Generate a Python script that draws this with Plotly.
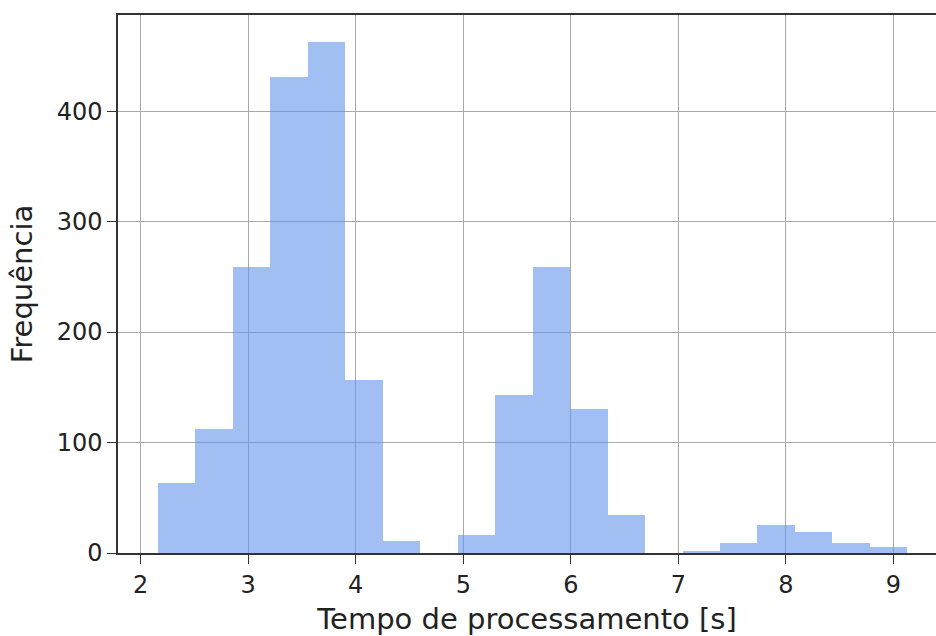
import plotly.graph_objects as go

# Histogram data
bin_start = 2.162
bin_width = 0.3483
counts = [63, 112, 259, 431, 463, 157, 11, 0, 16, 143, 259, 130, 34, 0, 2, 9, 25, 19, 9, 5]
x_ticks = [2, 3, 4, 5, 6, 7, 8, 9]
y_ticks = [0, 100, 200, 300, 400]

centers = [bin_start + (i + 0.5) * bin_width for i in range(len(counts))]

fig = go.Figure()
fig.add_trace(go.Bar(
    x=centers, y=counts, width=[bin_width] * len(counts),
    marker=dict(color="rgba(100,149,237,0.6)", line=dict(width=0)),
    showlegend=False,
))

font = "DejaVu Sans"
fig.update_layout(
    width=936, height=636,
    paper_bgcolor="white", plot_bgcolor="white",
    margin=dict(l=118, r=0, t=15, b=83, autoexpand=False),
    bargap=0,
    font=dict(family=font, color="#222", size=24),
    xaxis=dict(
        range=[1.790, 9.395], tickvals=x_ticks, ticktext=[str(v) for v in x_ticks],
        showgrid=True, gridcolor="#a8a8a8", gridwidth=1,
        showline=True, linecolor="#333", linewidth=1.5, mirror=True,
        ticks="outside", ticklen=9, tickcolor="#333", tickwidth=1.3,
        zeroline=False, automargin=False,
        title=dict(text="Tempo de processamento [s]", font=dict(size=29, family=font), standoff=14),
        tickfont=dict(size=24, family=font),
    ),
    yaxis=dict(
        range=[0, 487], tickvals=y_ticks, ticktext=[str(v) for v in y_ticks],
        showgrid=True, gridcolor="#a8a8a8", gridwidth=1,
        showline=True, linecolor="#333", linewidth=1.5,
        ticks="outside", ticklen=9, tickcolor="#333", tickwidth=1.3,
        zeroline=False, automargin=False,
        title=dict(text="Frequência", font=dict(size=29, family=font), standoff=15),
        tickfont=dict(size=24, family=font),
    ),
)

fig.write_html(
    "out.html",
    config={"displayModeBar": False},
    post_script="document.body.style.margin='0';document.body.style.overflow='hidden';",
)
